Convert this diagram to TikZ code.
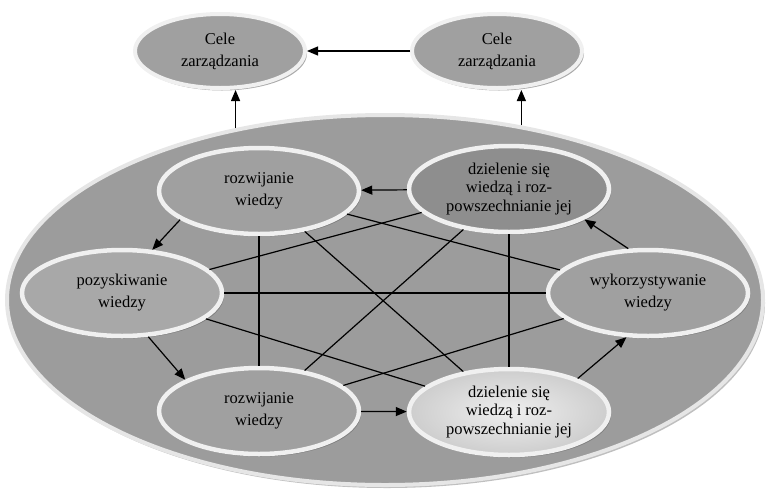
\documentclass[tikz,border=0pt]{standalone}
\usepackage{fontspec}
\setmainfont{Liberation Serif}
\usetikzlibrary{shapes.geometric,shadows,arrows.meta}
\definecolor{ringgray}{HTML}{F0F0F0}
\definecolor{outerring}{HTML}{E6E6E6}
\definecolor{areafill}{HTML}{9C9C9C}
\definecolor{bubblefill}{HTML}{A0A0A0}
\definecolor{lightbubble}{HTML}{A8A8A8}
\definecolor{darkbubble}{HTML}{8E8E8E}
\definecolor{palebubble}{HTML}{E4E4E4}
\begin{document}
\begin{tikzpicture}[x=1pt,y=-1pt,
  softshadow/.style={drop shadow={shadow xshift=2pt,shadow yshift=-2.5pt,fill=black!60,opacity=0.55}},
  bubble/.style={ellipse, draw=ringgray, line width=4.5pt, fill=bubblefill,
    inner sep=0pt, minimum width=200pt, minimum height=86pt, align=center,
    font=\fontsize{16.5}{22}\selectfont, softshadow},
  tallbubble/.style={bubble, font=\fontsize{16.5}{18.5}\selectfont},
  goal/.style={bubble, minimum width=170pt, minimum height=74pt, line width=4pt},
  link/.style={line width=1.2pt, draw=black},
  arr/.style={link, -{Triangle[length=11pt,width=9pt]}}
]
\useasboundingbox (0,0) rectangle (767,493);

% surrounding area
\node[ellipse, draw=outerring, line width=4pt, fill=areafill,
  minimum width=756pt, minimum height=370pt,
  drop shadow={shadow xshift=2pt,shadow yshift=-3pt,fill=black!50,opacity=0.5}]
  (big) at (385,300) {};

% goals
\node[goal] (G1) at (220,51) {Cele\\zarządzania};
\node[goal] (G2) at (497,51) {Cele\\zarządzania};

% knowledge processes
\node[bubble] (A) at (259,191) {rozwijanie\\wiedzy};
\node[tallbubble, fill=darkbubble] (B) at (509,189) {dzielenie się\\wiedzą i roz-\\powszechnianie jej};
\node[bubble] (C) at (648,293) {wykorzystywanie\\wiedzy};
\node[tallbubble, shading=radial, inner color=palebubble!60!white, outer color=palebubble!90!black] (D) at (509,412) {dzielenie się\\wiedzą i roz-\\powszechnianie jej};
\node[bubble] (E) at (259,411) {rozwijanie\\wiedzy};
\node[bubble, fill=lightbubble] (F) at (122,293) {pozyskiwanie\\wiedzy};

% cross links
\draw[link] (A) -- (E);
\draw[link] (B) -- (D);
\draw[link] (F) -- (C);
\draw[link] (F) -- (B);
\draw[link] (A) -- (C);
\draw[link] (A) -- (D);
\draw[link] (B) -- (E);
\draw[link] (F) -- (D);
\draw[link] (C) -- (E);

% cycle
\draw[arr] (B) -- (A);
\draw[arr] (A.200) -- (F.55);
\draw[arr] (F.301) -- (E.157);
\draw[arr] (E) -- (D);
\draw[arr] (D.26) -- (C.244);
\draw[arr] (C.114) -- (B.338);

% towards the goals
\draw[arr] (G2) -- (G1);
\coordinate (s1) at (big.131.6);
\coordinate (s2) at (big.52);
\draw[arr] (s1) -- (s1 |- G1.south);
\draw[arr] (s2) -- (s2 |- G2.south);
\end{tikzpicture}
\end{document}
